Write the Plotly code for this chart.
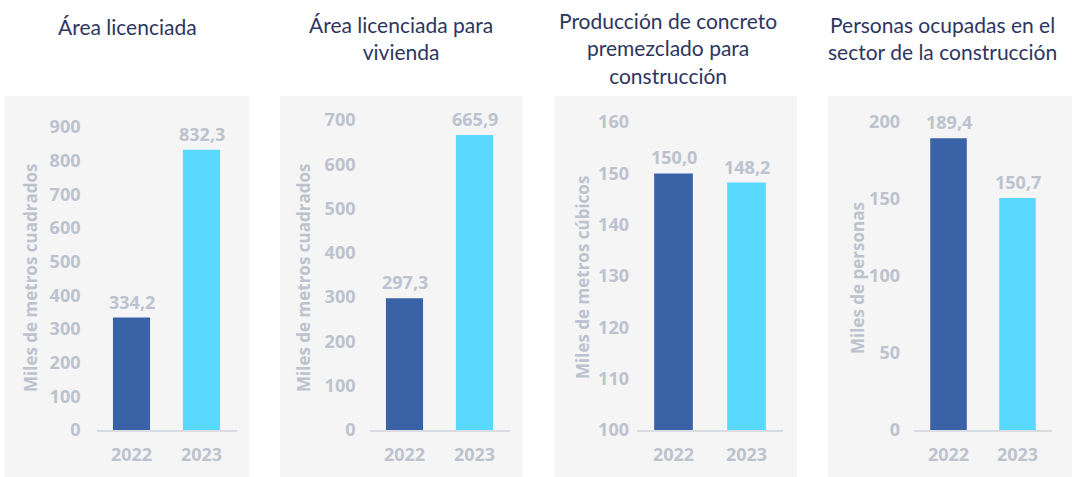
import plotly.graph_objects as go

W, H = 1080, 477

years = ["2022", "2023"]
titles = [
    "Área licenciada",
    "Área licenciada para<br>vivienda",
    "Producción de concreto<br>premezclado para<br>construcción",
    "Personas ocupadas en el<br>sector de la construcción",
]
ytitles = ["Miles de metros cuadrados", "Miles de metros cuadrados",
           "Miles de metros cúbicos", "Miles de personas"]
area_lic = [334.2, 832.3]
area_viv = [297.3, 665.9]
concreto = [150.0, 148.2]
personas = [189.4, 150.7]
series = [area_lic, area_viv, concreto, personas]
labels = [["334,2", "832,3"], ["297,3", "665,9"], ["150,0", "148,2"], ["189,4", "150,7"]]
yranges = [[0, 921], [0, 700], [100, 160.4], [0, 201.3]]
dticks = [100, 100, 10, 50]

bar_colors = ["#3a62a7", "#5ad9ff"]
gray = "#bcc3cf"
navy = "#2d3561"
TFONT = "Lato"
NFONT = "Open Sans"

# layout (pixels)
xdom_px = [(96.5, 236.5), (369.5, 509.5), (637, 783), (914, 1052)]
box_px = [(5, 249), (280, 522), (554, 797), (828, 1072)]
title_cx = [127, 401, 668, 942]
title_cy = [27, 38, 48, 38]
ytitle_x = [30, 303, 582, 857]
standoff = [15, 13, 7, 13]
ydom = [(H - 430) / H, (H - 120) / H]

fig = go.Figure()
shapes = []
annotations = []
for i in range(4):
    xa = "xaxis" if i == 0 else f"xaxis{i+1}"
    ya = "yaxis" if i == 0 else f"yaxis{i+1}"
    xr = "x" if i == 0 else f"x{i+1}"
    yr = "y" if i == 0 else f"y{i+1}"
    fig.add_trace(go.Bar(
        x=years, y=series[i], marker=dict(color=bar_colors, line=dict(width=0)),
        width=0.53, xaxis=xr, yaxis=yr, showlegend=False, hoverinfo="skip",
    ))
    fig.layout[xa] = dict(
        domain=[xdom_px[i][0] / W, xdom_px[i][1] / W], anchor=yr, automargin=False,
        type="category", range=[-0.5, 1.5], showgrid=False, zeroline=False,
        showline=True, linecolor="#d9dce1", linewidth=2, ticks="",
        tickfont=dict(family=NFONT, size=18, color=gray, weight="bold"),
        ticklabelstandoff=7,
    )
    fig.layout[ya] = dict(
        domain=ydom, anchor=xr, range=yranges[i], dtick=dticks[i], tick0=0, automargin=False,
        showgrid=False, zeroline=False, showline=False, ticks="",
        tickfont=dict(family=NFONT, size=18, color=gray, weight="bold"),
        ticklabelstandoff=standoff[i],
    )
    shapes.append(dict(type="rect", xref="paper", yref="paper", layer="below",
                       x0=box_px[i][0] / W, x1=box_px[i][1] / W,
                       y0=0, y1=(H - 96) / H, fillcolor="#f5f5f5", line=dict(width=0)))
    for j, yv in enumerate(series[i]):
        annotations.append(dict(x=j, y=yv, xref=xr, yref=yr, text=labels[i][j],
                                showarrow=False, yanchor="bottom", yshift=2,
                                font=dict(family=NFONT, size=18, color=gray, weight="bold")))
    annotations.append(dict(x=ytitle_x[i] / W, y=(H - 278) / H, xref="paper", yref="paper",
                            text=ytitles[i], textangle=-90, showarrow=False,
                            xanchor="center", yanchor="middle",
                            font=dict(family=NFONT, size=17, color=gray, weight="bold")))
    annotations.append(dict(x=title_cx[i] / W, y=(H - title_cy[i]) / H,
                            xref="paper", yref="paper", text=titles[i], showarrow=False,
                            xanchor="center", yanchor="middle", align="center",
                            font=dict(family=TFONT, size=21, color=navy)))

fig.update_layout(
    width=W, height=H, margin=dict(l=0, r=0, t=0, b=0, autoexpand=False),
    paper_bgcolor="white", plot_bgcolor="rgba(0,0,0,0)",
    shapes=shapes, annotations=annotations,
)
fig.write_html("out.html", config={"displayModeBar": False},
               post_script="document.body.style.margin='0';document.body.style.overflow='hidden';")
